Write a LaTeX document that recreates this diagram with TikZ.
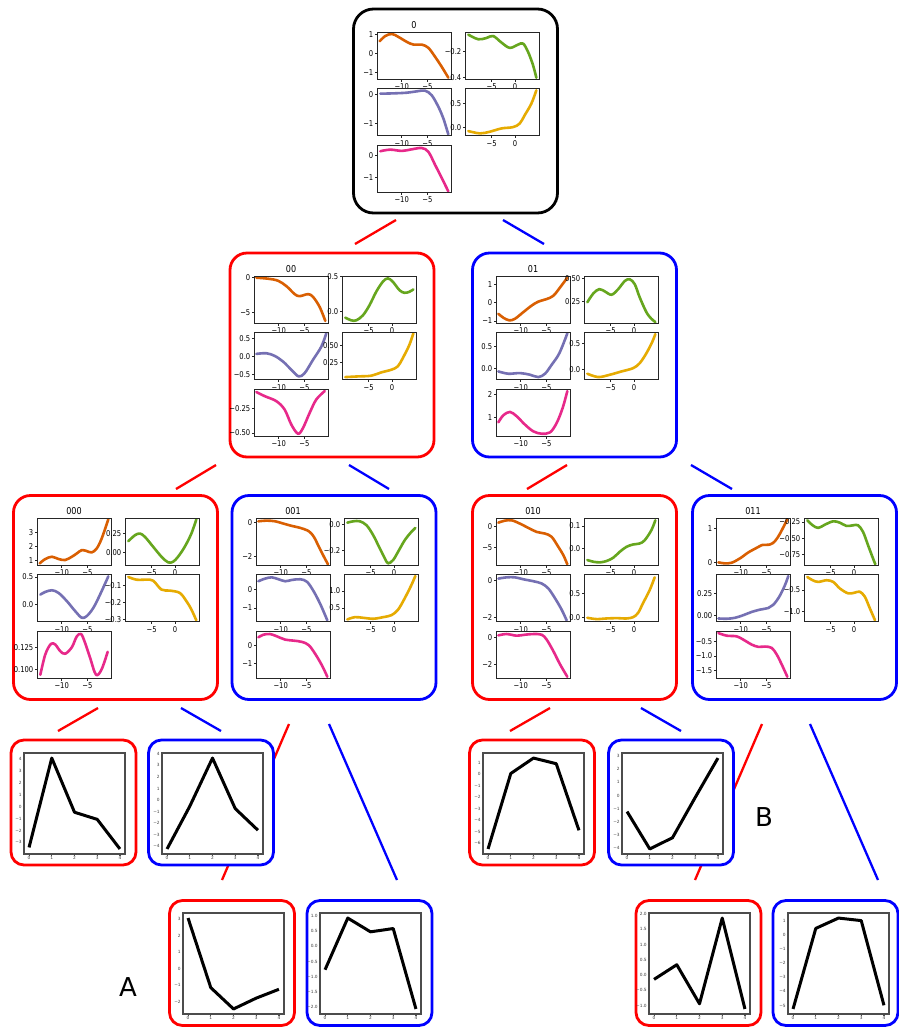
\documentclass[tikz,border=0pt]{standalone}
\usepackage{fontspec}
\setmainfont{DejaVu Sans}
\newfontfamily\tkfont[FakeStretch=0.85]{DejaVu Sans}
\definecolor{cOr}{HTML}{D95F02}
\definecolor{cGr}{HTML}{66A61E}
\definecolor{cPu}{HTML}{7570B3}
\definecolor{cYe}{HTML}{E6AB02}
\definecolor{cPk}{HTML}{E7298A}
\definecolor{cRed}{HTML}{FF0000}
\definecolor{cBlue}{HTML}{0000FF}
\tikzset{
  tbox/.style={draw, line width=2.8pt, rounded corners=17pt, fill=white, inner sep=0pt, minimum width=204pt, minimum height=204pt},
  lbox/.style={draw, line width=2.8pt, rounded corners=13pt, fill=white, inner sep=0pt, minimum width=125pt, minimum height=125pt},
  conn/.style={line width=2.3pt},
  crv/.style={line width=2.6pt, line join=round, line cap=round},
  axfr/.style={draw=black!85, line width=0.9pt},
  lfr/.style={draw=black!70, line width=1.1pt},
  tklbl/.style={font=\tkfont\fontsize{8}{9}\selectfont, inner sep=0pt, text=black},
  ttl/.style={font=\tkfont\fontsize{9.5}{10}\selectfont, inner sep=0pt},
  ltick/.style={font=\fontsize{4.3}{5}\selectfont, inner sep=0pt, text=black!75},
  leafline/.style={line width=3pt, line join=round, black},
  biglbl/.style={font=\fontsize{26}{30}\selectfont, inner sep=0pt}
}
\newcommand\spl[6]{%
  \pgfmathsetmacro\spx{\boxX+25+88*#2}%
  \pgfmathsetmacro\spy{\boxY+71+56.7*#3}%
  \ifnum#2=0 \def\xtl{0.334/−10,0.68/−5}\else\def\xtl{0.36/−5,0.676/0}\fi
  \begin{scope}[shift={(\spx,\spy)},x=74pt,y=47pt]
    \fill[white] (0,0) rectangle (1,1);
    \begin{scope}
      \clip (0,0) rectangle (1,1);
      \draw[crv,#4] plot[smooth,tension=0.55] coordinates {#5};
    \end{scope}
    \draw[axfr] (0,0) rectangle (1,1);
    \foreach \f/\l [count=\k] in {#6}{%
      \draw[axfr] (0,\f) -- ++(-2.5pt,0);
      \node[tklbl,anchor=east] (#1y\k) at ([xshift=-3.5pt]0,\f) {\l};}
    \foreach \f/\l [count=\k] in \xtl{%
      \draw[axfr] (\f,0) -- ++(0,-2.5pt);
      \node[tklbl,anchor=north] (#1x\k) at ([yshift=-4.3pt]\f,0) {\l};}
  \end{scope}}
\newcommand\leafplot[7]{%
  \pgfmathsetmacro\yu{90.9/((#5)-(#4))}%
  \pgfmathsetmacro\yo{5.05-(#4)*\yu}%
  \pgfmathsetmacro\yb{(#4)-5.05/\yu}%
  \pgfmathsetmacro\yt{(#5)+5.05/\yu}%
  \begin{scope}[shift={(#2+15,#3+115)},x=22.725pt,y=\yu pt,xshift=5.05pt,yshift=\yo pt]
    \draw[lfr] (-0.2222,\yb) rectangle (4.2222,\yt);
    \draw[leafline] plot coordinates {#6};
    \foreach \v/\l [count=\k] in {#7}{%
      \draw[lfr] (-0.2222,\v) -- ++(-1.5pt,0);
      \node[ltick,anchor=east] (#1y\k) at ([xshift=-2.2pt]-0.2222,\v) {\l};}
    \foreach \v in {0,1,2,3,4}{%
      \draw[lfr] (\v,\yb) -- ++(0,-1.5pt);
      \node[ltick,anchor=north] (#1x\v) at ([yshift=-2.4pt]\v,\yb) {\v};}
  \end{scope}}
\begin{document}
\begin{tikzpicture}[x=1pt,y=-1pt]
\useasboundingbox (0,0) rectangle (899,1029);
\fill[white] (0,0) rectangle (899,1029);
% connectors
\coordinate (k1a) at (355,244); \coordinate (k1b) at (396,220);
\coordinate (k2a) at (503,220); \coordinate (k2b) at (544,244);
\coordinate (k3a) at (176,489); \coordinate (k3b) at (216,465);
\coordinate (k4a) at (349,465); \coordinate (k4b) at (389,489);
\coordinate (k5a) at (527,489); \coordinate (k5b) at (567,465);
\coordinate (k6a) at (691,465); \coordinate (k6b) at (732,489);
\coordinate (k7a) at (58,731);  \coordinate (k7b) at (98,708);
\coordinate (k8a) at (181,708); \coordinate (k8b) at (221,731);
\coordinate (k9a) at (289,724); \coordinate (k9b) at (222,880);
\coordinate (k10a) at (329,724); \coordinate (k10b) at (397,880);
\coordinate (k11a) at (510,731); \coordinate (k11b) at (550,708);
\coordinate (k12a) at (641,708); \coordinate (k12b) at (681,731);
\coordinate (k13a) at (762,724); \coordinate (k13b) at (695,880);
\coordinate (k14a) at (810,724); \coordinate (k14b) at (878,880);
\draw[conn,cRed] (k1a) -- (k1b);
\draw[conn,cBlue] (k2a) -- (k2b);
\draw[conn,cRed] (k3a) -- (k3b);
\draw[conn,cBlue] (k4a) -- (k4b);
\draw[conn,cRed] (k5a) -- (k5b);
\draw[conn,cBlue] (k6a) -- (k6b);
\draw[conn,cRed] (k7a) -- (k7b);
\draw[conn,cBlue] (k8a) -- (k8b);
\draw[conn,cRed] (k9a) -- (k9b);
\draw[conn,cBlue] (k10a) -- (k10b);
\draw[conn,cRed] (k11a) -- (k11b);
\draw[conn,cBlue] (k12a) -- (k12b);
\draw[conn,cRed] (k13a) -- (k13b);
\draw[conn,cBlue] (k14a) -- (k14b);
% boxes
\node[tbox,draw=black,rounded corners=20pt] (n0) at (455.5,111) {};
\node[tbox,draw=cRed] (n00) at (332,355) {};
\node[tbox,draw=cBlue] (n01) at (574.5,355) {};
\node[tbox,draw=cRed] (n000) at (115.5,597.5) {};
\node[tbox,draw=cBlue] (n001) at (334,597.5) {};
\node[tbox,draw=cRed] (n010) at (574.5,597.5) {};
\node[tbox,draw=cBlue] (n011) at (794.5,597.5) {};
\node[lbox,draw=cRed] (m1) at (73.5,802.5) {};
\node[lbox,draw=cBlue] (m2) at (211,802.5) {};
\node[lbox,draw=cRed] (m3) at (532,802.5) {};
\node[lbox,draw=cBlue] (m4) at (671,802.5) {};
\node[lbox,draw=cRed] (m5) at (232,963) {};
\node[lbox,draw=cBlue] (m6) at (369.5,963) {};
\node[lbox,draw=cRed] (m7) at (698.5,963) {};
\node[lbox,draw=cBlue] (m8) at (835.5,963) {};
% root 0
\def\boxX{352}\def\boxY{8}
\node[ttl] (t0) at (\boxX+62,\boxY+17) {0};
\spl{a1}{0}{0}{cOr}{(0.036,0.803) (0.112,0.915) (0.202,0.958) (0.291,0.894) (0.404,0.789) (0.493,0.732) (0.605,0.732) (0.695,0.662) (0.785,0.472) (0.874,0.261) (0.964,0.028)}{0.944/1,0.535/0,0.134/−1}
\spl{a3}{0}{1}{cPu}{(0.045,0.894) (0.224,0.901) (0.404,0.915) (0.538,0.944) (0.650,0.958) (0.740,0.859) (0.830,0.613) (0.897,0.366) (0.964,0.028)}{0.873/0,0.261/−1}
\spl{a5}{0}{2}{cPk}{(0.045,0.876) (0.179,0.910) (0.336,0.883) (0.471,0.917) (0.605,0.945) (0.695,0.862) (0.785,0.586) (0.874,0.310) (0.964,0.021)}{0.793/0,0.310/−1}
\spl{a2}{1}{0}{cGr}{(0.045,0.944) (0.179,0.845) (0.291,0.873) (0.381,0.915) (0.493,0.775) (0.605,0.662) (0.717,0.732) (0.785,0.754) (0.852,0.577) (0.919,0.296) (0.964,0.028)}{0.592/−0.2,0.028/0.4}
\spl{a4}{1}{1}{cYe}{(0.045,0.099) (0.202,0.049) (0.336,0.085) (0.493,0.155) (0.650,0.183) (0.740,0.261) (0.807,0.437) (0.897,0.683) (0.964,0.965)}{0.683/0.5,0.169/0.0}
% 00
\def\boxX{229}\def\boxY{252}
\node[ttl] (t00) at (\boxX+62,\boxY+17) {00};
\spl{b1}{0}{0}{cOr}{(0.032,0.964) (0.189,0.943) (0.324,0.9) (0.437,0.786) (0.550,0.614) (0.617,0.571) (0.730,0.614) (0.797,0.557) (0.887,0.343) (0.964,0.043)}{0.971/0,0.221/−5}
\spl{b3}{0}{1}{cPu}{(0.032,0.549) (0.167,0.563) (0.279,0.507) (0.392,0.387) (0.505,0.211) (0.604,0.07) (0.685,0.141) (0.797,0.423) (0.910,0.704) (0.977,0.986)}{0.880/0.5,0.493/0.0,0.106/−0.5}
\spl{b5}{0}{2}{cPk}{(0.032,0.943) (0.144,0.857) (0.302,0.75) (0.414,0.571) (0.505,0.25) (0.595,0.057) (0.662,0.179) (0.752,0.5) (0.842,0.786) (0.955,0.964)}{0.586/−0.25,0.071/−0.50}
\spl{b2}{1}{0}{cGr}{(0.045,0.114) (0.126,0.057) (0.193,0.057) (0.283,0.164) (0.372,0.379) (0.462,0.664) (0.552,0.879) (0.619,0.95) (0.686,0.879) (0.776,0.7) (0.843,0.643) (0.910,0.664) (0.964,0.714)}{0.986/0.5,0.25/0.0}
\spl{b4}{1}{1}{cYe}{(0.045,0.056) (0.215,0.07) (0.395,0.085) (0.529,0.155) (0.664,0.211) (0.753,0.282) (0.821,0.458) (0.910,0.739) (0.964,0.986)}{0.725/0.50,0.366/0.25}
% 01
\def\boxX{471}\def\boxY{252}
\node[ttl] (t01) at (\boxX+62,\boxY+17) {01};
\spl{c1}{0}{0}{cOr}{(0.032,0.196) (0.099,0.112) (0.180,0.056) (0.257,0.091) (0.369,0.231) (0.482,0.371) (0.572,0.455) (0.685,0.51) (0.775,0.58) (0.865,0.755) (0.964,0.965)}{0.811/1,0.427/0,0.042/−1}
\spl{c3}{0}{1}{cPu}{(0.032,0.176) (0.167,0.127) (0.324,0.141) (0.459,0.106) (0.572,0.056) (0.662,0.127) (0.752,0.317) (0.856,0.563) (0.964,0.986)}{0.704/0.5,0.246/0.0}
\spl{c5}{0}{2}{cPk}{(0.032,0.3) (0.099,0.45) (0.189,0.521) (0.279,0.429) (0.392,0.25) (0.505,0.107) (0.617,0.057) (0.730,0.086) (0.820,0.286) (0.901,0.607) (0.964,0.964)}{0.893/2,0.393/1}
\spl{c2}{1}{0}{cGr}{(0.045,0.441) (0.126,0.629) (0.206,0.72) (0.283,0.671) (0.372,0.601) (0.462,0.72) (0.552,0.895) (0.619,0.93) (0.686,0.825) (0.753,0.545) (0.843,0.231) (0.910,0.091) (0.964,0.021)}{0.944/0.50,0.455/0.25}
\spl{c4}{1}{1}{cYe}{(0.045,0.127) (0.193,0.056) (0.350,0.106) (0.507,0.176) (0.664,0.246) (0.753,0.352) (0.843,0.563) (0.924,0.810) (0.964,0.972)}{0.775/0.5,0.225/0.0}
% 000
\def\boxX{12}\def\boxY{494}
\node[ttl] (t000) at (\boxX+62,\boxY+17) {000};
\spl{d1}{0}{0}{cOr}{(0.036,0.035) (0.112,0.127) (0.202,0.176) (0.291,0.127) (0.381,0.106) (0.471,0.176) (0.538,0.246) (0.605,0.317) (0.673,0.296) (0.740,0.268) (0.807,0.352) (0.874,0.563) (0.964,0.972)}{0.683/3,0.387/2,0.092/1}
\spl{d3}{0}{1}{cPu}{(0.045,0.577) (0.112,0.634) (0.202,0.669) (0.291,0.613) (0.404,0.437) (0.516,0.225) (0.605,0.085) (0.673,0.120) (0.762,0.296) (0.852,0.577) (0.964,0.965)}{0.951/0.5,0.366/0.0}
\spl{d5}{0}{2}{cPk}{(0.045,0.077) (0.112,0.51) (0.188,0.734) (0.247,0.72) (0.314,0.58) (0.381,0.524) (0.471,0.664) (0.538,0.895) (0.596,0.944) (0.650,0.755) (0.717,0.441) (0.798,0.077) (0.874,0.196) (0.955,0.566)}{0.650/0.125,0.196/0.100}
\spl{d2}{1}{0}{cGr}{(0.045,0.507) (0.135,0.634) (0.202,0.669) (0.269,0.599) (0.381,0.387) (0.493,0.176) (0.583,0.056) (0.650,0.070) (0.717,0.176) (0.807,0.387) (0.897,0.669) (0.964,0.972)}{0.669/0.25,0.268/0.00}
\spl{d4}{1}{1}{cYe}{(0.045,0.951) (0.157,0.894) (0.291,0.894) (0.381,0.873) (0.493,0.683) (0.605,0.662) (0.740,0.613) (0.830,0.437) (0.897,0.261) (0.964,0.028)}{0.768/−0.1,0.415/−0.2,0.049/−0.3}
% 001
\def\boxX{231}\def\boxY{494}
\node[ttl] (t001) at (\boxX+62,\boxY+17) {001};
\spl{e1}{0}{0}{cOr}{(0.032,0.93) (0.145,0.944) (0.259,0.93) (0.373,0.880) (0.486,0.831) (0.6,0.789) (0.714,0.718) (0.782,0.599) (0.85,0.387) (0.918,0.176) (0.973,0.014)}{0.901/0,0.176/−2}
\spl{e3}{0}{1}{cPu}{(0.032,0.861) (0.123,0.917) (0.214,0.944) (0.305,0.903) (0.395,0.861) (0.486,0.889) (0.6,0.903) (0.691,0.847) (0.782,0.639) (0.873,0.361) (0.964,0.028)}{0.694/0,0.292/−1}
\spl{e5}{0}{2}{cPk}{(0.032,0.874) (0.1,0.930) (0.191,0.944) (0.282,0.895) (0.395,0.825) (0.509,0.804) (0.623,0.776) (0.714,0.706) (0.805,0.510) (0.895,0.266) (0.964,0.035)}{0.706/0,0.315/−1}
\spl{e2}{1}{0}{cGr}{(0.045,0.901) (0.126,0.930) (0.215,0.930) (0.305,0.845) (0.395,0.634) (0.484,0.352) (0.552,0.141) (0.596,0.035) (0.664,0.106) (0.731,0.282) (0.821,0.528) (0.910,0.704) (0.964,0.789)}{0.859/0.0,0.317/−0.2}
\spl{e4}{1}{1}{cYe}{(0.045,0.049) (0.148,0.097) (0.260,0.083) (0.395,0.063) (0.529,0.097) (0.641,0.139) (0.731,0.257) (0.821,0.5) (0.910,0.778) (0.964,0.972)}{0.653/1.0,0.292/0.5}
% 010
\def\boxX{471}\def\boxY{494}
\node[ttl] (t010) at (\boxX+62,\boxY+17) {010};
\spl{f1}{0}{0}{cOr}{(0.032,0.901) (0.122,0.944) (0.212,0.951) (0.324,0.880) (0.437,0.789) (0.550,0.704) (0.662,0.669) (0.752,0.599) (0.842,0.387) (0.910,0.211) (0.964,0.014)}{0.824/0,0.366/−5}
\spl{f3}{0}{1}{cPu}{(0.032,0.917) (0.144,0.944) (0.257,0.944) (0.369,0.903) (0.505,0.861) (0.617,0.813) (0.707,0.708) (0.797,0.5) (0.887,0.257) (0.955,0.028)}{0.875/0,0.083/−2}
\spl{f5}{0}{2}{cPk}{(0.032,0.916) (0.144,0.944) (0.279,0.909) (0.392,0.930) (0.505,0.944) (0.617,0.930) (0.685,0.825) (0.775,0.580) (0.865,0.301) (0.964,0.035)}{0.874/0,0.301/−2}
\spl{f2}{1}{0}{cGr}{(0.045,0.106) (0.126,0.070) (0.215,0.056) (0.305,0.085) (0.395,0.155) (0.484,0.282) (0.574,0.387) (0.664,0.437) (0.753,0.458) (0.821,0.528) (0.910,0.739) (0.964,0.951)}{0.831/0.1,0.352/0.0}
\spl{f4}{1}{1}{cYe}{(0.045,0.083) (0.170,0.056) (0.305,0.069) (0.439,0.076) (0.574,0.069) (0.664,0.097) (0.731,0.188) (0.798,0.396) (0.888,0.674) (0.955,0.944)}{0.604/0.5,0.083/0.0}
% 011
\def\boxX{691}\def\boxY{494}
\node[ttl] (t011) at (\boxX+62,\boxY+17) {011};
\spl{g1}{0}{0}{cOr}{(0.032,0.056) (0.122,0.035) (0.212,0.049) (0.324,0.141) (0.437,0.268) (0.550,0.366) (0.617,0.423) (0.730,0.437) (0.797,0.507) (0.865,0.669) (0.964,0.972)}{0.775/1,0.056/0}
\spl{g3}{0}{1}{cPu}{(0.032,0.069) (0.144,0.063) (0.257,0.083) (0.369,0.139) (0.482,0.208) (0.595,0.257) (0.707,0.292) (0.775,0.361) (0.856,0.535) (0.932,0.778) (0.977,0.972)}{0.604/0.25,0.139/0.00}
\spl{g5}{0}{2}{cPk}{(0.032,0.965) (0.144,0.909) (0.279,0.895) (0.369,0.825) (0.482,0.720) (0.572,0.671) (0.662,0.678) (0.752,0.650) (0.820,0.510) (0.887,0.301) (0.964,0.035)}{0.776/−0.5,0.476/−1.0,0.161/−1.5}
\spl{g2}{1}{0}{cGr}{(0.045,0.951) (0.117,0.845) (0.193,0.789) (0.283,0.859) (0.395,0.930) (0.484,0.901) (0.574,0.831) (0.664,0.845) (0.731,0.845) (0.798,0.704) (0.865,0.423) (0.924,0.176) (0.964,0.014)}{0.915/−0.25,0.563/−0.50,0.225/−0.75}
\spl{g4}{1}{1}{cYe}{(0.045,0.951) (0.117,0.882) (0.193,0.847) (0.305,0.882) (0.395,0.847) (0.484,0.708) (0.596,0.604) (0.686,0.618) (0.753,0.639) (0.821,0.535) (0.888,0.292) (0.960,0.028)}{0.674/−0.5,0.222/−1.0}
% leaves
\leafplot{p1}{9}{739}{-3.55}{4.1}{(0,-3.42) (1,4.1) (2,-0.46) (3,-1.06) (4,-3.55)}{-3/−3,-2/−2,-1/−1,0/0,1/1,2/2,3/3,4/4}
\leafplot{p2}{147}{739}{-4.23}{3.63}{(0,-4.23) (1,-0.54) (2,3.63) (3,-0.74) (4,-2.61)}{-4/−4,-3/−3,-2/−2,-1/−1,0/0,1/1,2/2,3/3,4/4}
\leafplot{p3}{468}{739}{-6.49}{1.4}{(0,-6.49) (1,0.06) (2,1.4) (3,0.91) (4,-4.87)}{-6/−6,-5/−5,-4/−4,-3/−3,-2/−2,-1/−1,0/0,1/1}
\leafplot{p4}{607}{739}{-4.05}{2.83}{(0,-1.22) (1,-4.05) (2,-3.2) (3,-0.15) (4,2.83)}{-4/−4,-3/−3,-2/−2,-1/−1,0/0,1/1,2/2,3/3}
\leafplot{p5}{168}{899}{-2.46}{3.08}{(0,3.08) (1,-1.16) (2,-2.46) (3,-1.8) (4,-1.26)}{-2/−2,-1/−1,0/0,1/1,2/2,3/3}
\leafplot{p6}{305}{899}{-2.05}{0.915}{(0,-0.77) (1,0.915) (2,0.466) (3,0.573) (4,-2.05)}{-2/−2.0,-1.5/−1.5,-1/−1.0,-0.5/−0.5,0/0.0,0.5/0.5,1/1.0}
\leafplot{p7}{634}{899}{-1.11}{1.87}{(0,-0.14) (1,0.34) (2,-0.94) (3,1.87) (4,-1.11)}{-1/−1.0,-0.5/−0.5,0/0.0,0.5/0.5,1/1.0,1.5/1.5,2/2.0}
\leafplot{p8}{773}{899}{-5.24}{1.18}{(0,-5.24) (1,0.45) (2,1.18) (3,1.0) (4,-4.98)}{-5/−5,-4/−4,-3/−3,-2/−2,-1/−1,0/0,1/1}
% labels
\node[biglbl] (lblA) at (128,987) {A};
\node[biglbl] (lblB) at (764,817) {B};
\end{tikzpicture}
\end{document}
